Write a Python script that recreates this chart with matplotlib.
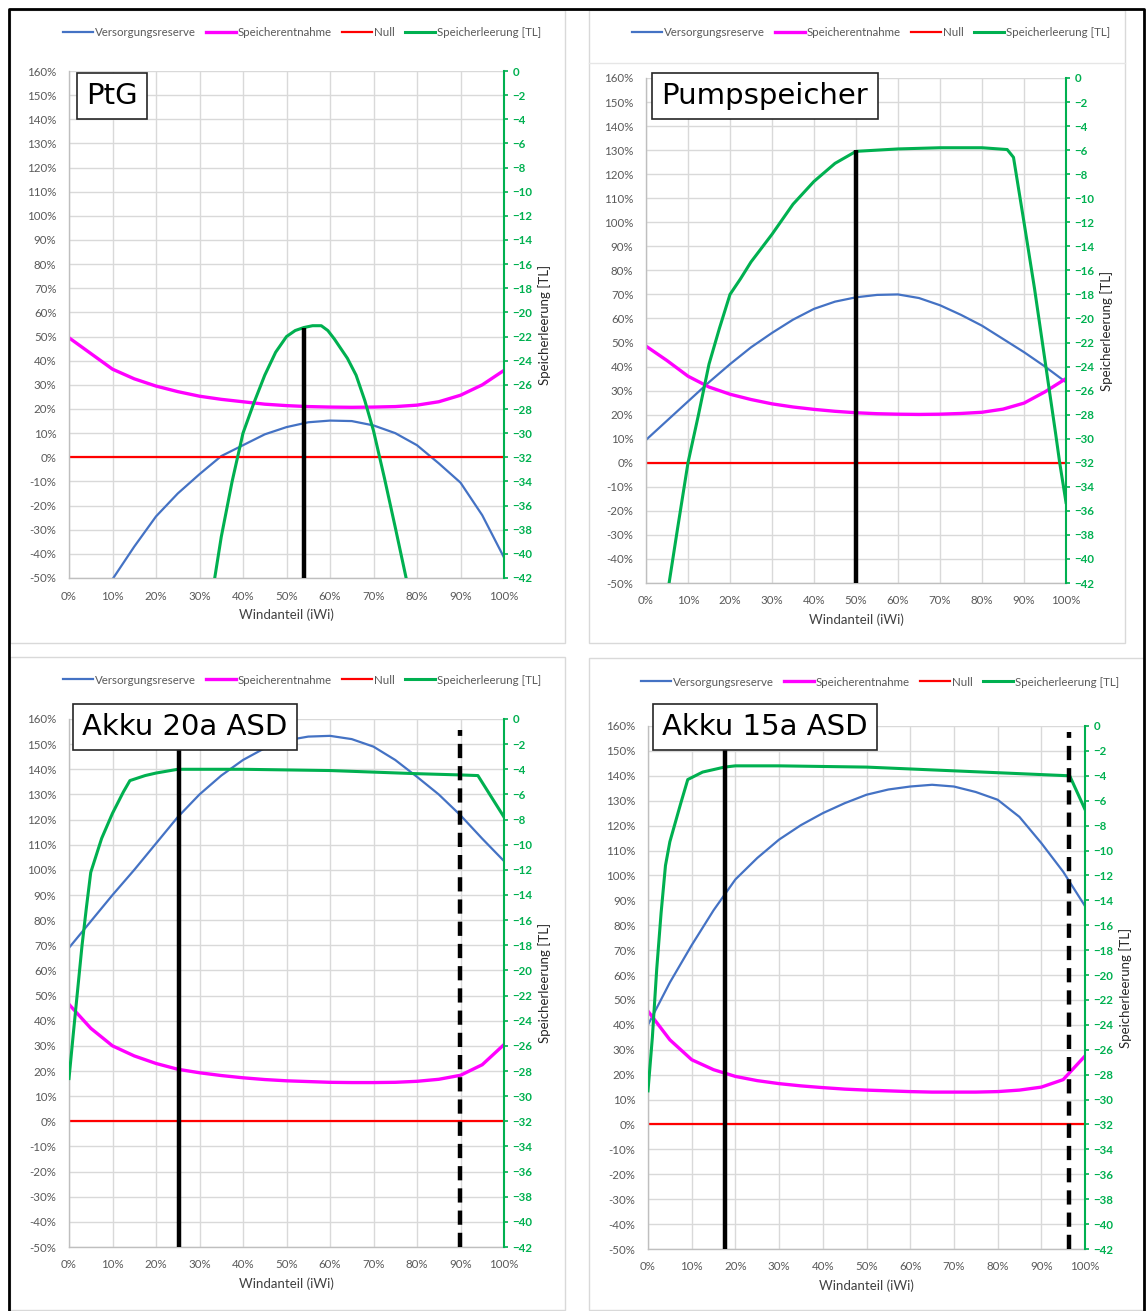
import numpy as np
import matplotlib
matplotlib.use("Agg")
import matplotlib.pyplot as plt
from matplotlib.lines import Line2D
from matplotlib.patches import Rectangle
from matplotlib.ticker import FuncFormatter

plt.rcParams['font.family'] = ['Lato', 'DejaVu Sans']

W, H = 1146, 1311

# shared x grid (Windanteil in %)
x_pct = [0, 5, 10, 15, 20, 25, 30, 35, 40, 45, 50, 55, 60, 65, 70, 75, 80, 85, 90, 95, 100]

# --- PtG ---
ptg_reserve = [-88, -68, -50.5, -37, -24.5, -15, -7, 0.5, 5, 9.5, 12.5, 14.5, 15.2, 15,
               13.2, 10, 5, -2.5, -10.5, -24, -41.5]
ptg_entnahme = [49.5, 43, 36.5, 32.5, 29.5, 27.2, 25.3, 24, 23, 22, 21.4, 21, 20.8, 20.7,
                20.8, 21, 21.6, 23, 25.7, 30, 36]
ptg_green_x = [33.5, 35, 37.5, 40, 42.5, 45, 47.5, 50, 52, 54, 56, 58, 59.5, 61, 62.5, 64,
               66, 68, 70, 72.5, 75, 77.5]
ptg_leerung = [-42, -38.6, -34, -30, -27.5, -25.2, -23.3, -22.0, -21.5, -21.25, -21.1,
               -21.1, -21.5, -22.2, -23, -23.8, -25.2, -27.3, -29.8, -33.7, -37.8, -42]

# --- Pumpspeicher ---
pump_reserve = [9.5, 17.5, 25.5, 33.5, 41, 48, 54, 59.5, 64, 67, 68.8, 69.8, 70, 68.5,
                65.5, 61.5, 57, 51.5, 46, 40, 33.5]
pump_entnahme = [48.5, 42.5, 36, 31.5, 28.5, 26.3, 24.5, 23.2, 22.2, 21.4, 20.8, 20.4, 20.2,
                 20.1, 20.2, 20.5, 21, 22.3, 24.8, 29.5, 35]
pump_green_x = [5.5, 7.5, 10, 12.5, 15, 17.5, 20, 22.5, 25, 30, 35, 40, 45, 50, 60, 70,
                80, 86, 87.5, 90, 92.5, 95, 97.5, 98.5, 100]
pump_leerung = [-42, -37.5, -32, -28, -23.8, -20.8, -18, -16.7, -15.3, -13, -10.5, -8.6,
                -7.1, -6.1, -5.9, -5.8, -5.8, -5.95, -6.6, -12, -17.5, -23.5, -29.5, -32,
                -35.3]

# --- Akku 20a ASD ---
a20_reserve = [69, 79.5, 90, 100, 110.5, 121, 130, 137.5, 143.7, 148.4, 151.5, 153, 153.3,
               152, 149, 143.7, 137, 130, 121.7, 112.4, 103.5]
a20_entnahme = [46.5, 37, 30, 26, 23, 20.7, 19.3, 18.2, 17.3, 16.6, 16.1, 15.8, 15.5, 15.4,
                15.4, 15.5, 15.9, 16.7, 18.3, 22.5, 30.5]
a20_green_x = [0, 1, 2, 3, 4, 5, 7.5, 10, 12.5, 14, 17.5, 20, 25, 40, 60, 80, 90, 94, 100]
a20_leerung = [-28.6, -25, -21.5, -18, -15, -12.2, -9.5, -7.5, -5.8, -4.9, -4.5, -4.3, -4.0,
               -4.0, -4.1, -4.35, -4.45, -4.5, -7.8]

# --- Akku 15a ASD ---
a15_reserve = [40, 57, 72, 86, 98.4, 107, 114.4, 120.2, 125, 129, 132.4, 134.5, 135.7,
               136.4, 135.7, 133.5, 130.4, 123.5, 113, 101.5, 87.7]
a15_entnahme = [45.5, 34, 26, 22, 19.3, 17.6, 16.4, 15.5, 14.8, 14.2, 13.8, 13.5, 13.2, 13,
                13, 13, 13.2, 13.8, 15, 18, 27.5]
a15_green_x = [0, 1, 2, 3, 4, 5, 7.5, 9.1, 12.5, 17.5, 20, 30, 50, 70, 96.5, 100]
a15_leerung = [-29.3, -25, -19.5, -15, -11.2, -9.3, -6.2, -4.3, -3.7, -3.3, -3.2, -3.2,
               -3.3, -3.6, -4.0, -6.7]

# marker lines: (x, top in % of left axis)
ptg_solid = (54, 53.5)
pump_solid = (50, 130)
a20_solid, a20_dashed = (25.3, 160), (90, 155.7)
a15_solid, a15_dashed = (17.6, 160), (96.4, 157.7)

labels = ['Versorgungsreserve', 'Speicherentnahme', 'Null', 'Speicherleerung [TL]']
C_BLUE, C_MAG, C_RED, C_GREEN = '#4472C4', '#FF00FF', '#FF0000', '#00B050'
TXT = '#595959'


def fx(x):
    return x / W


def fy(y):
    return 1 - y / H


def draw_panel(fig, rect, reserve, entnahme, gx, gy, name, name_xy,
               solid, dashed, legend_xy):
    x0, y0, x1, y1 = rect
    ax = fig.add_axes([fx(x0), fy(y1), fx(x1) - fx(x0), fy(y0) - fy(y1)])
    ax.set_xlim(0, 100)
    ax.set_ylim(-50, 160)
    ax.set_xticks(range(0, 101, 10))
    ax.set_yticks(range(-50, 161, 10))
    pct = FuncFormatter(lambda v, p: f'{v:.0f}%')
    ax.xaxis.set_major_formatter(pct)
    ax.yaxis.set_major_formatter(pct)
    ax.grid(True, color='#D9D9D9', lw=1)
    ax.set_axisbelow(True)
    for s in ['top', 'right']:
        ax.spines[s].set_visible(False)
    for s in ['left', 'bottom']:
        ax.spines[s].set_color('#BFBFBF')
        ax.spines[s].set_linewidth(1)
    ax.tick_params(axis='both', length=0, labelsize=8.3, labelcolor=TXT)
    ax.tick_params(axis='y', pad=9)
    ax.tick_params(axis='x', pad=9)
    ax.set_xlabel('Windanteil (iWi)', fontsize=9.5, color='#404040', labelpad=5)

    l1, = ax.plot(x_pct, reserve, color=C_BLUE, lw=1.6)
    l2, = ax.plot(x_pct, entnahme, color=C_MAG, lw=2.4)
    l3, = ax.plot([0, 100], [0, 0], color=C_RED, lw=1.6)

    ax2 = ax.twinx()
    ax2.set_ylim(-42, 0)
    ax2.set_yticks(range(-42, 1, 2))
    for s in ['top', 'left', 'bottom']:
        ax2.spines[s].set_visible(False)
    ax2.spines['right'].set_color(C_GREEN)
    ax2.spines['right'].set_linewidth(1.5)
    ax2.tick_params(axis='y', colors=C_GREEN, length=3, width=1.2, pad=3,
                    labelsize=8.3)
    for t in ax2.get_yticklabels():
        t.set_fontweight('bold')
    ax2.set_ylabel('Speicherleerung [TL]', fontsize=9.5, color='#262626', labelpad=4)
    l4, = ax2.plot(gx, gy, color=C_GREEN, lw=2.2)

    ax2.plot([solid[0], solid[0]], [-50, solid[1]], color='black', lw=3.2,
             transform=ax.transData, solid_capstyle='butt')
    if dashed is not None:
        ax2.plot([dashed[0], dashed[0]], [-50, dashed[1]], color='black', lw=3.2,
                 dashes=(3.2, 1.8), transform=ax.transData, dash_capstyle='butt')

    fig.text(fx(name_xy[0]), fy(name_xy[1]), name, fontsize=21, family='DejaVu Sans',
             ha='center', va='center', color='black', zorder=10,
             bbox=dict(boxstyle='square,pad=0.32', fc='white', ec='#262626', lw=1.2))

    fig.legend([l1, l2, l3, l4], labels, loc='center',
               bbox_to_anchor=(fx(legend_xy[0]), fy(legend_xy[1])), ncol=4,
               frameon=False, fontsize=8.3, handlelength=2.6, handletextpad=0.15,
               columnspacing=0.9, labelcolor=TXT)
    return ax, ax2


fig = plt.figure(figsize=(W / 100, H / 100), dpi=100)

# panel frames
for (a, b, c, d) in [(10, 10, 565, 643), (589, 10, 1125, 643),
                     (10, 657, 565, 1310), (589, 658, 1144, 1310)]:
    fig.add_artist(Rectangle((fx(a), fy(d)), fx(c) - fx(a), fy(b) - fy(d),
                             transform=fig.transFigure, fill=False,
                             ec='#D9D9D9', lw=1))
fig.add_artist(Line2D([fx(589), fx(1125)], [fy(63), fy(63)], transform=fig.transFigure,
                      color='#E6E6E6', lw=1))
# outer black frame
fig.add_artist(Line2D([fx(9), fx(9), fx(1144), fx(1144)],
                      [fy(1311), fy(9), fy(9), fy(1311)],
                      transform=fig.transFigure, color='black', lw=2))

draw_panel(fig, (69, 71, 504, 578), ptg_reserve, ptg_entnahme, ptg_green_x,
           ptg_leerung, 'PtG', (112, 96), ptg_solid, None, (302, 33))
draw_panel(fig, (646, 78, 1066, 583), pump_reserve, pump_entnahme, pump_green_x,
           pump_leerung, 'Pumpspeicher', (765, 96), pump_solid, None, (871, 33))
draw_panel(fig, (69, 719, 504, 1247), a20_reserve, a20_entnahme, a20_green_x,
           a20_leerung, 'Akku 20a ASD', (185, 727), a20_solid, a20_dashed, (302, 680))
draw_panel(fig, (648, 726, 1085, 1249), a15_reserve, a15_entnahme, a15_green_x,
           a15_leerung, 'Akku 15a ASD', (765, 727), a15_solid, a15_dashed, (880, 682))

fig.savefig('out.png', dpi=100, facecolor='white')
